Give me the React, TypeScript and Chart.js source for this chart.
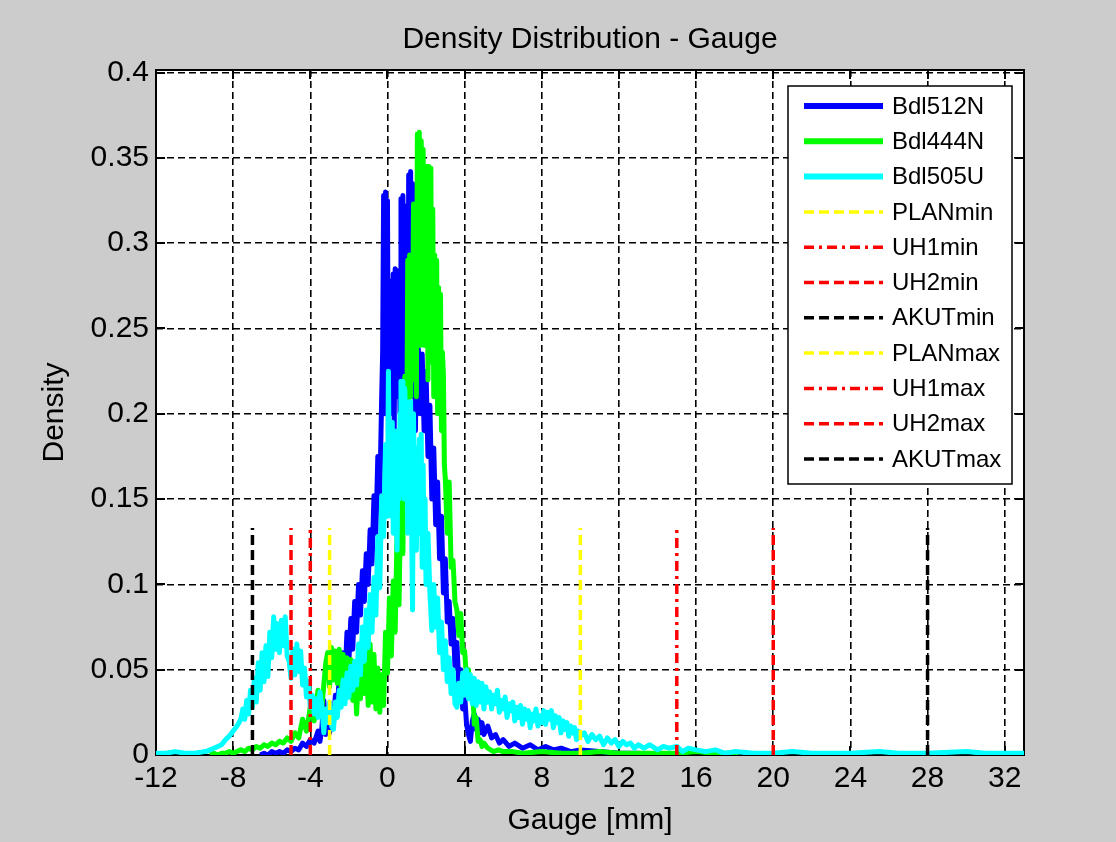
import React, { useEffect, useRef } from 'react';
import { Chart, registerables } from 'chart.js';

Chart.register(...registerables);

const FONT = "'Liberation Sans', Arial, Helvetica, sans-serif";

const titleText = 'Density Distribution - Gauge';
const xAxisTitle = 'Gauge [mm]';
const yAxisTitle = 'Density';

const xTickValues = [-12, -8, -4, 0, 4, 8, 12, 16, 20, 24, 28, 32];
const xTickLabels = ['-12', '-8', '-4', '0', '4', '8', '12', '16', '20', '24', '28', '32'];
const yTickValues = [0, 0.05, 0.1, 0.15, 0.2, 0.25, 0.3, 0.35, 0.4];
const yTickLabels = ['0', '0.05', '0.1', '0.15', '0.2', '0.25', '0.3', '0.35', '0.4'];
const xMin = -12;
const xMax = 33;
const yMin = 0;
const yMax = 0.4015;

// Bdl512N density (gauge mm, density)
const bdl512N: [number, number][] = [
  [-6.6, 0], [-6.4, 0.001], [-6.2, 0.0], [-6.0, 0.002], [-5.8, 0.001], [-5.6, 0.002], [-5.4, 0.001], [-5.2, 0.003],
  [-5.0, 0.002], [-4.8, 0.004], [-4.6, 0.003], [-4.4, 0.007], [-4.2, 0.005], [-4.0, 0.009], [-3.8, 0.007], [-3.6, 0.014],
  [-3.5, 0.008], [-3.4, 0.016], [-3.3, 0.032], [-3.2, 0.012], [-3.1, 0.02], [-3.0, 0.013], [-2.9, 0.027], [-2.8, 0.018],
  [-2.7, 0.035], [-2.6, 0.025], [-2.5, 0.046], [-2.4, 0.034], [-2.3, 0.06], [-2.2, 0.045], [-2.1, 0.072], [-2.0, 0.055],
  [-1.9, 0.08], [-1.8, 0.062], [-1.7, 0.09], [-1.6, 0.072], [-1.5, 0.1], [-1.4, 0.082], [-1.3, 0.108], [-1.2, 0.09],
  [-1.1, 0.118], [-1.0, 0.1], [-0.9, 0.132], [-0.8, 0.112], [-0.7, 0.152], [-0.6, 0.13], [-0.5, 0.175], [-0.4, 0.15],
  [-0.3, 0.21], [-0.25, 0.236],
  [-0.2, 0.328], [-0.15, 0.2], [-0.1, 0.33], [-0.05, 0.21], [0.0, 0.325], [0.05, 0.19], [0.1, 0.278], [0.15, 0.2],
  [0.2, 0.276], [0.25, 0.21], [0.3, 0.282], [0.35, 0.19], [0.4, 0.285], [0.45, 0.22], [0.5, 0.284], [0.55, 0.21],
  [0.6, 0.25], [0.65, 0.2], [0.7, 0.326], [0.75, 0.24], [0.8, 0.328], [0.85, 0.25], [0.9, 0.322], [0.95, 0.21],
  [1.0, 0.27], [1.05, 0.2], [1.1, 0.34], [1.15, 0.22], [1.2, 0.342], [1.25, 0.24], [1.3, 0.335], [1.35, 0.21],
  [1.4, 0.25], [1.45, 0.19], [1.5, 0.24], [1.55, 0.2], [1.6, 0.238],
  [1.7, 0.2], [1.8, 0.235], [1.9, 0.19], [2.0, 0.225], [2.1, 0.175], [2.2, 0.205], [2.3, 0.15], [2.4, 0.18],
  [2.5, 0.135], [2.6, 0.16], [2.7, 0.115], [2.8, 0.14], [2.9, 0.095], [3.0, 0.115], [3.1, 0.078], [3.2, 0.09],
  [3.3, 0.065], [3.4, 0.08], [3.5, 0.052], [3.6, 0.066], [3.7, 0.04], [3.8, 0.05], [3.9, 0.027], [4.0, 0.035],
  [4.1, 0.018], [4.2, 0.012], [4.3, 0.008], [4.4, 0.02], [4.5, 0.024], [4.6, 0.015], [4.7, 0.021], [4.8, 0.013],
  [4.9, 0.019], [5.0, 0.012], [5.2, 0.017], [5.4, 0.01], [5.6, 0.012], [5.8, 0.007], [6.0, 0.009], [6.3, 0.005],
  [6.6, 0.007], [7.0, 0.004], [7.4, 0.006], [7.8, 0.003], [8.2, 0.005], [8.6, 0.003], [9.0, 0.004], [9.5, 0.002],
  [10.0, 0.003], [11.0, 0.002], [12.0, 0.001], [13.0, 0.001], [14.0, 0.0],
];

// Bdl444N density
const bdl444N: [number, number][] = [
  [-9.2, 0], [-9.0, 0.001], [-8.8, 0.0], [-8.6, 0.001], [-8.4, 0.001], [-8.2, 0.002], [-8.0, 0.001], [-7.8, 0.002],
  [-7.6, 0.003], [-7.4, 0.002], [-7.2, 0.004], [-7.0, 0.003], [-6.8, 0.005], [-6.6, 0.004], [-6.4, 0.006], [-6.2, 0.005],
  [-6.0, 0.007], [-5.8, 0.006], [-5.6, 0.008], [-5.4, 0.007], [-5.2, 0.01], [-5.0, 0.008], [-4.8, 0.013], [-4.6, 0.01],
  [-4.4, 0.021], [-4.2, 0.014], [-4.0, 0.028], [-3.8, 0.02], [-3.6, 0.038], [-3.4, 0.028], [-3.2, 0.054],
  [-3.1, 0.06], [-3.0, 0.04], [-2.9, 0.063], [-2.8, 0.044], [-2.7, 0.061], [-2.6, 0.042], [-2.5, 0.062], [-2.4, 0.04],
  [-2.3, 0.059], [-2.2, 0.038], [-2.1, 0.057], [-2.0, 0.034], [-1.9, 0.056], [-1.8, 0.032], [-1.7, 0.051], [-1.6, 0.024],
  [-1.5, 0.049], [-1.4, 0.033], [-1.3, 0.059], [-1.2, 0.036], [-1.1, 0.063], [-1.0, 0.029], [-0.9, 0.065], [-0.8, 0.031],
  [-0.7, 0.059], [-0.6, 0.027], [-0.5, 0.051], [-0.4, 0.025], [-0.3, 0.047], [-0.2, 0.029], [-0.1, 0.072], [0.0, 0.048],
  [0.1, 0.092], [0.2, 0.058], [0.3, 0.102], [0.4, 0.072], [0.5, 0.132], [0.6, 0.088], [0.7, 0.162], [0.8, 0.118],
  [0.9, 0.222], [1.0, 0.178],
  [1.05, 0.29], [1.1, 0.2], [1.15, 0.293], [1.2, 0.21], [1.25, 0.29], [1.3, 0.23], [1.35, 0.323], [1.4, 0.22],
  [1.45, 0.323], [1.5, 0.21], [1.55, 0.364], [1.6, 0.25], [1.65, 0.365], [1.7, 0.24], [1.75, 0.36], [1.8, 0.26],
  [1.85, 0.355], [1.9, 0.24], [1.95, 0.345], [2.0, 0.25], [2.05, 0.345], [2.1, 0.22], [2.15, 0.345], [2.2, 0.24],
  [2.25, 0.344], [2.3, 0.23], [2.35, 0.32], [2.4, 0.21], [2.45, 0.293], [2.5, 0.22], [2.55, 0.29], [2.6, 0.2],
  [2.65, 0.274], [2.7, 0.21], [2.75, 0.27], [2.8, 0.19], [2.85, 0.236],
  [2.9, 0.223], [2.95, 0.17], [3.0, 0.162], [3.1, 0.13], [3.2, 0.16], [3.3, 0.11], [3.4, 0.114], [3.5, 0.09],
  [3.6, 0.085], [3.7, 0.07], [3.8, 0.083], [3.9, 0.06], [4.0, 0.061], [4.1, 0.045], [4.2, 0.05], [4.3, 0.035],
  [4.4, 0.045], [4.5, 0.018], [4.6, 0.022], [4.7, 0.008], [4.8, 0.009], [4.9, 0.005], [5.0, 0.007], [5.2, 0.004],
  [5.5, 0.002], [5.75, 0.003], [6.0, 0.002], [6.5, 0.002], [7.0, 0.001], [8.0, 0.002], [9.0, 0.001], [10.0, 0.001],
  [11.0, 0.002], [12.0, 0.001], [13.0, 0.001], [14.0, 0.001], [15.0, 0.001], [16.0, 0.002], [17.0, 0.001], [18.2, 0.001],
];

// Bdl505U density
const bdl505U: [number, number][] = [
  [-12.0, 0.001], [-11.5, 0.001], [-11.0, 0.002], [-10.5, 0.001], [-10.0, 0.001], [-9.5, 0.002],
  [-9.4, 0.002], [-9.2, 0.003], [-9.0, 0.004], [-8.8, 0.005], [-8.6, 0.006], [-8.4, 0.009], [-8.2, 0.011], [-8.0, 0.014],
  [-7.8, 0.017], [-7.6, 0.021], [-7.5, 0.027], [-7.4, 0.021], [-7.3, 0.032], [-7.2, 0.024], [-7.1, 0.038], [-7.0, 0.028],
  [-6.9, 0.045], [-6.8, 0.031], [-6.7, 0.054], [-6.6, 0.038], [-6.5, 0.06], [-6.4, 0.043], [-6.3, 0.064], [-6.2, 0.046],
  [-6.1, 0.072], [-6.0, 0.057], [-5.9, 0.081], [-5.8, 0.062], [-5.7, 0.077], [-5.6, 0.06], [-5.5, 0.079], [-5.4, 0.064],
  [-5.3, 0.081], [-5.2, 0.058], [-5.1, 0.055], [-5.0, 0.045], [-4.9, 0.062], [-4.8, 0.047], [-4.7, 0.065], [-4.6, 0.049],
  [-4.5, 0.061], [-4.4, 0.041], [-4.3, 0.051], [-4.2, 0.034], [-4.1, 0.043], [-4.0, 0.028], [-3.9, 0.035], [-3.8, 0.024],
  [-3.7, 0.033], [-3.6, 0.022], [-3.5, 0.037], [-3.4, 0.028], [-3.3, 0.013], [-3.2, 0.027], [-3.1, 0.019], [-3.0, 0.031],
  [-2.9, 0.017], [-2.8, 0.015], [-2.7, 0.031], [-2.6, 0.022], [-2.5, 0.038], [-2.4, 0.028], [-2.3, 0.044], [-2.2, 0.03],
  [-2.1, 0.048], [-2.0, 0.034], [-1.9, 0.052], [-1.8, 0.038], [-1.7, 0.055], [-1.6, 0.041], [-1.5, 0.065], [-1.4, 0.047],
  [-1.3, 0.075], [-1.2, 0.055], [-1.1, 0.085], [-1.0, 0.063], [-0.9, 0.094], [-0.8, 0.072], [-0.7, 0.104], [-0.6, 0.082],
  [-0.5, 0.128], [-0.4, 0.098], [-0.3, 0.152], [-0.2, 0.128], [-0.1, 0.182], [0.0, 0.14],
  [0.05, 0.225], [0.1, 0.15], [0.15, 0.19], [0.2, 0.14], [0.25, 0.195], [0.3, 0.13], [0.35, 0.19], [0.4, 0.15],
  [0.45, 0.185], [0.5, 0.12], [0.55, 0.19], [0.6, 0.15], [0.65, 0.2], [0.7, 0.219], [0.75, 0.17], [0.8, 0.219],
  [0.85, 0.15], [0.9, 0.215], [0.95, 0.16], [1.0, 0.19], [1.05, 0.13], [1.1, 0.207], [1.15, 0.16], [1.2, 0.207],
  [1.25, 0.14], [1.3, 0.085], [1.35, 0.2], [1.4, 0.15], [1.45, 0.18], [1.5, 0.12], [1.55, 0.17], [1.6, 0.14],
  [1.65, 0.185], [1.7, 0.13], [1.75, 0.188], [1.8, 0.11], [1.85, 0.17], [1.9, 0.12], [1.95, 0.15], [2.0, 0.1],
  [2.1, 0.13], [2.2, 0.095], [2.3, 0.073], [2.4, 0.1], [2.5, 0.075], [2.6, 0.092], [2.7, 0.06], [2.8, 0.078],
  [2.9, 0.05], [3.0, 0.067], [3.1, 0.043], [3.2, 0.057], [3.3, 0.036], [3.4, 0.05], [3.5, 0.03], [3.6, 0.028],
  [3.7, 0.042], [3.8, 0.031], [3.9, 0.048], [4.0, 0.035], [4.1, 0.05], [4.2, 0.033], [4.3, 0.047], [4.4, 0.03],
  [4.5, 0.045], [4.6, 0.029], [4.7, 0.043], [4.8, 0.031], [4.9, 0.042], [5.0, 0.027],
  [5.1, 0.04], [5.2, 0.031], [5.3, 0.037], [5.4, 0.027], [5.5, 0.035], [5.6, 0.03], [5.7, 0.038], [5.8, 0.025],
  [5.9, 0.032], [6.0, 0.027], [6.1, 0.034], [6.2, 0.022], [6.3, 0.03], [6.4, 0.026], [6.5, 0.031], [6.6, 0.02],
  [6.7, 0.028], [6.8, 0.022], [6.9, 0.029], [7.0, 0.018], [7.1, 0.027], [7.2, 0.021], [7.3, 0.026], [7.4, 0.016],
  [7.5, 0.024], [7.6, 0.02], [7.7, 0.027], [7.8, 0.017], [7.9, 0.023], [8.0, 0.019], [8.1, 0.026], [8.2, 0.018],
  [8.3, 0.025], [8.4, 0.021], [8.5, 0.026], [8.6, 0.016], [8.7, 0.023], [8.8, 0.019], [8.9, 0.022], [9.0, 0.013],
  [9.1, 0.02], [9.2, 0.015], [9.3, 0.019], [9.4, 0.011], [9.5, 0.017], [9.6, 0.013], [9.7, 0.016], [9.8, 0.009],
  [9.9, 0.014], [10.0, 0.011], [10.2, 0.013], [10.4, 0.008], [10.6, 0.012], [10.8, 0.009], [11.0, 0.011], [11.2, 0.006],
  [11.4, 0.01], [11.6, 0.007], [11.8, 0.009], [12.0, 0.005], [12.2, 0.008], [12.4, 0.006], [12.6, 0.007], [12.8, 0.004],
  [13.0, 0.006], [13.3, 0.004], [13.6, 0.006], [14.0, 0.003], [14.3, 0.005], [14.6, 0.004], [15.0, 0.005], [15.3, 0.002],
  [15.6, 0.004], [16.0, 0.003], [16.5, 0.002], [17.0, 0.003], [17.5, 0.001], [18.0, 0.002], [19.0, 0.001], [20.0, 0.001],
  [21.0, 0.002], [22.0, 0.001], [24.0, 0.001], [25.5, 0.002], [26.5, 0.001], [28.0, 0.001], [30.0, 0.002], [31.0, 0.001],
  [32.0, 0.001], [33.0, 0.001],
];

const curveNames = ['Bdl512N', 'Bdl444N', 'Bdl505U'];
const curveData = [bdl512N, bdl444N, bdl505U];
const curveColors = ['#0000ff', '#00ff00', '#00ffff'];

const limitNames = ['PLANmin', 'UH1min', 'UH2min', 'AKUTmin', 'PLANmax', 'UH1max', 'UH2max', 'AKUTmax'];
const limitValues = [-3, -4, -5, -7, 10, 15, 20, 28];
const limitHeight = 0.133;
const limitColors = ['#ffff00', '#ff0000', '#ff0000', '#000000', '#ffff00', '#ff0000', '#ff0000', '#000000'];
const limitDashes = [[10, 5], [10, 5, 3, 5], [10, 5], [10, 5], [10, 5], [10, 5, 3, 5], [10, 5], [10, 5]];

type LegendItem = { text: string; color: string; dash: number[]; width: number };

const legendItems: LegendItem[] = [
  ...curveNames.map((n, i) => ({ text: n, color: curveColors[i], dash: [] as number[], width: 6 })),
  ...limitNames.map((n, i) => ({ text: n, color: limitColors[i], dash: limitDashes[i], width: 3.5 })),
];

const matlabFrame = {
  id: 'matlabFrame',
  beforeDraw(chart: any) {
    const { ctx, chartArea: a, width, height } = chart;
    ctx.save();
    ctx.fillStyle = '#cccccc';
    ctx.fillRect(0, 0, width, height);
    ctx.fillStyle = '#ffffff';
    ctx.fillRect(a.left, a.top, a.right - a.left, a.bottom - a.top);
    ctx.restore();
  },
  beforeDatasetsDraw(chart: any) {
    const { ctx, chartArea: a, scales } = chart;
    ctx.save();
    ctx.strokeStyle = '#000';
    ctx.lineWidth = 2;
    ctx.setLineDash([]);
    ctx.strokeRect(a.left, a.top, a.right - a.left, a.bottom - a.top);
    const tl = 9;
    ctx.beginPath();
    xTickValues.forEach((v) => {
      const px = Math.round(scales.x.getPixelForValue(v));
      ctx.moveTo(px, a.bottom);
      ctx.lineTo(px, a.bottom - tl);
      ctx.moveTo(px, a.top);
      ctx.lineTo(px, a.top + tl);
    });
    yTickValues.forEach((v) => {
      const py = Math.round(scales.y.getPixelForValue(v));
      ctx.moveTo(a.left, py);
      ctx.lineTo(a.left + tl, py);
      ctx.moveTo(a.right, py);
      ctx.lineTo(a.right - tl, py);
    });
    ctx.stroke();
    ctx.restore();
  },
  afterDraw(chart: any) {
    const { ctx, chartArea: a } = chart;
    const bw = 224;
    const bh = 398;
    const bx = a.right - 12 - bw;
    const by = a.top + 16;
    ctx.save();
    ctx.fillStyle = '#ffffff';
    ctx.fillRect(bx, by, bw, bh);
    ctx.strokeStyle = '#000';
    ctx.lineWidth = 1.5;
    ctx.setLineDash([]);
    ctx.strokeRect(bx, by, bw, bh);
    const rowH = 35.3;
    ctx.font = `24px ${FONT}`;
    ctx.textBaseline = 'middle';
    ctx.textAlign = 'left';
    legendItems.forEach((it, i) => {
      const y = by + 20 + i * rowH;
      ctx.beginPath();
      ctx.strokeStyle = it.color;
      ctx.lineWidth = it.width;
      ctx.setLineDash(it.dash);
      ctx.lineCap = 'butt';
      ctx.moveTo(bx + 16, y);
      ctx.lineTo(bx + 95, y);
      ctx.stroke();
      ctx.setLineDash([]);
      ctx.fillStyle = '#000';
      ctx.fillText(it.text, bx + 104, y + 1);
    });
    ctx.restore();
  },
};

export default function App() {
  const ref = useRef<HTMLCanvasElement | null>(null);

  useEffect(() => {
    document.body.style.margin = '0';
    document.body.style.background = '#cccccc';
    const canvas = ref.current;
    if (!canvas) return;

    const curveSets = curveData.map((d, i) => ({
      label: curveNames[i],
      data: d.map(([x, y]) => ({ x, y })),
      borderColor: curveColors[i],
      backgroundColor: curveColors[i],
      borderWidth: 5,
      pointRadius: 0,
      tension: 0,
      fill: false,
      borderJoinStyle: 'round' as const,
      borderCapStyle: 'butt' as const,
      order: 20 - i,
    }));

    const limitSets = limitValues.map((v, i) => ({
      label: limitNames[i],
      data: [{ x: v, y: 0 }, { x: v, y: limitHeight }],
      borderColor: limitColors[i],
      backgroundColor: limitColors[i],
      borderWidth: 3.5,
      borderDash: limitDashes[i],
      pointRadius: 0,
      tension: 0,
      fill: false,
      borderCapStyle: 'butt' as const,
      order: 10 - i,
    }));

    const chart = new Chart(canvas, {
      type: 'line',
      data: { datasets: [...curveSets, ...limitSets] as any },
      options: {
        responsive: false,
        animation: false,
        devicePixelRatio: 1,
        layout: { padding: { top: 0, right: 92, bottom: 0, left: 0 } },
        plugins: {
          legend: { display: false },
          tooltip: { enabled: false },
          title: {
            display: true,
            text: titleText,
            color: '#000',
            font: { family: FONT, size: 30, weight: 'normal' },
            padding: { top: 22, bottom: 12 },
            fullSize: false,
          },
        },
        scales: {
          x: {
            type: 'linear',
            min: xMin,
            max: xMax,
            afterBuildTicks: (s: any) => {
              s.ticks = xTickValues.map((v) => ({ value: v }));
            },
            afterFit: (s: any) => {
              s.height = 87;
            },
            ticks: {
              color: '#000',
              font: { family: FONT, size: 30 },
              padding: 6,
              maxRotation: 0,
              autoSkip: false,
              callback: (v: any) => xTickLabels[xTickValues.indexOf(Number(v))] ?? '',
            },
            grid: { color: '#000', lineWidth: 1.6, drawTicks: false },
            border: { display: false, dash: [7, 4] },
            title: {
              display: true,
              text: xAxisTitle,
              color: '#000',
              font: { family: FONT, size: 30 },
              padding: { top: 0, bottom: 3 },
            },
          },
          y: {
            type: 'linear',
            min: yMin,
            max: yMax,
            afterBuildTicks: (s: any) => {
              s.ticks = yTickValues.map((v) => ({ value: v }));
            },
            afterFit: (s: any) => {
              s.width = 156;
            },
            ticks: {
              color: '#000',
              font: { family: FONT, size: 30 },
              padding: 7,
              callback: (v: any) => yTickLabels[yTickValues.indexOf(Number(v))] ?? '',
            },
            grid: { color: '#000', lineWidth: 1.6, drawTicks: false },
            border: { display: false, dash: [7, 4] },
            title: {
              display: true,
              text: yAxisTitle,
              color: '#000',
              font: { family: FONT, size: 30 },
              padding: { top: 37, bottom: 0 },
            },
          },
        },
      },
      plugins: [matlabFrame],
    });

    return () => {
      chart.destroy();
    };
  }, []);

  return (
    <canvas
      ref={ref}
      width={1116}
      height={842}
      style={{ display: 'block', width: '1116px', height: '842px' }}
    />
  );
}
